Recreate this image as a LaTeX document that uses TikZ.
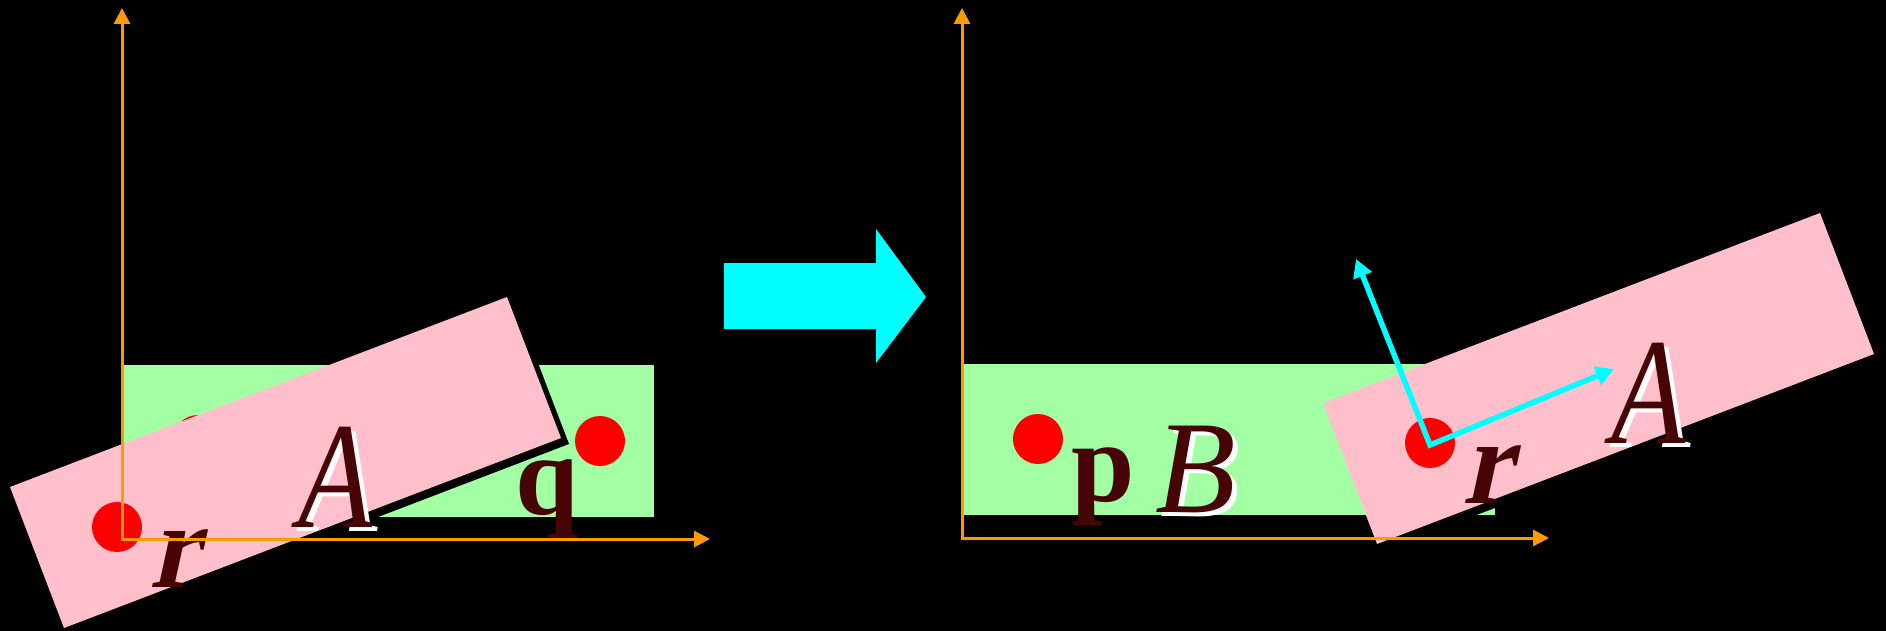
\documentclass[tikz,border=0pt]{standalone}
\usepackage{fontspec}
\setmainfont{Liberation Serif}
\newfontfamily\slantserif[FakeSlant=0.22, FakeStretch=0.9]{Liberation Serif}
\newfontfamily\narrowserif[FakeStretch=0.8]{Liberation Serif}
\usetikzlibrary{arrows.meta}
\definecolor{axis_orange}{RGB}{255, 153, 0}
\definecolor{body_pink}{RGB}{255, 192, 203}
\definecolor{body_green}{RGB}{163, 255, 163}
\definecolor{point_red}{RGB}{255, 0, 0}
\definecolor{frame_cyan}{RGB}{0, 255, 255}
\definecolor{label_maroon}{RGB}{70, 4, 4}

\begin{document}
\begin{tikzpicture}[
    x=1pt, y=-1pt,
    >={Triangle[length=16pt,width=16pt]},
    % Styles
    axis_line/.style={
        draw=axis_orange, line width=3pt, <->
    },
    frame_arrow/.style={
        draw=frame_cyan, line width=5.5pt, {Triangle[length=18pt,width=19pt]}-{Triangle[length=18pt,width=19pt]}
    },
    letter_bold/.style={
        inner sep=0pt, anchor=base, text=label_maroon, font=\fontsize{114}{114}\selectfont\bfseries
    },
    letter_slant/.style={
        inner sep=0pt, anchor=base, text=label_maroon, font=\fontsize{122}{122}\slantserif\bfseries
    },
    letter_italic/.style={
        inner sep=0pt, anchor=base, text=label_maroon, font=\fontsize{152}{152}\narrowserif\itshape
    },
    letter_italic_wide/.style={
        inner sep=0pt, anchor=base, text=label_maroon, font=\fontsize{132}{132}\selectfont\itshape
    },
    letter_shadow/.style={
        text=white
    }
]

% 0. Canvas
\fill[black] (0,0) rectangle (1886,631);
\useasboundingbox (0,0) rectangle (1886,631);

% 1. LEFT: body B with points p, q
\coordinate (origin_left) at (122,539);
\fill[body_green] (122,365) rectangle (654,517);
\fill[point_red] (198,440) circle[radius=25];
\fill[point_red] (600,441) circle[radius=25];
\node[letter_bold] (q_label) at (547,514) {q};

% 2. RIGHT: body B with point p
\coordinate (origin_right) at (962,538);
\fill[body_green] (962,364) rectangle (1495,515);
\fill[point_red] (1038,439) circle[radius=25];
\node[letter_bold] (p_label) at (1103,501) {p};
\node[letter_italic_wide, letter_shadow] (B_shadow) at (1201,516) {B};
\node[letter_italic_wide] (B_label) at (1196,512) {B};

% 3. Body A, before and after the move
\foreach \sx/\sy/\nm in {0/0/left, 1313/-84/right} {
    \begin{scope}[shift={(\sx,\sy)}]
        \fill[black] (18,493) -- (515,303) -- (569,444) -- (72,634) -- cycle;
        \fill[body_pink] (10,487) -- (507,297) -- (561,438) -- (64,628) -- cycle;
        \fill[point_red] (117,527) circle[radius=25];
        \node[letter_slant] (r_\nm) at (174,587) {r};
        \node[letter_italic, letter_shadow] (A_shadow_\nm) at (341,531) {A};
        \node[letter_italic] (A_\nm) at (336,527) {A};
    \end{scope}
}

% 4. Transition arrow
\fill[frame_cyan] (724,263) -- (876,263) -- (876,229) -- (926,297)
    -- (876,363) -- (876,329) -- (724,329) -- cycle;

% --- Body frame of A ---
\coordinate (frame_origin) at (1430,445);
\coordinate (frame_u) at (1614,369);
\coordinate (frame_v) at (1356,259);
\draw[frame_arrow] (frame_v) -- (frame_origin) -- (frame_u);

% --- Axes ---
\draw[axis_line] (122,8) -- (origin_left) -- (710,539);
\draw[axis_line] (962,8) -- (origin_right) -- (1549,538);

\end{tikzpicture}
\end{document}
